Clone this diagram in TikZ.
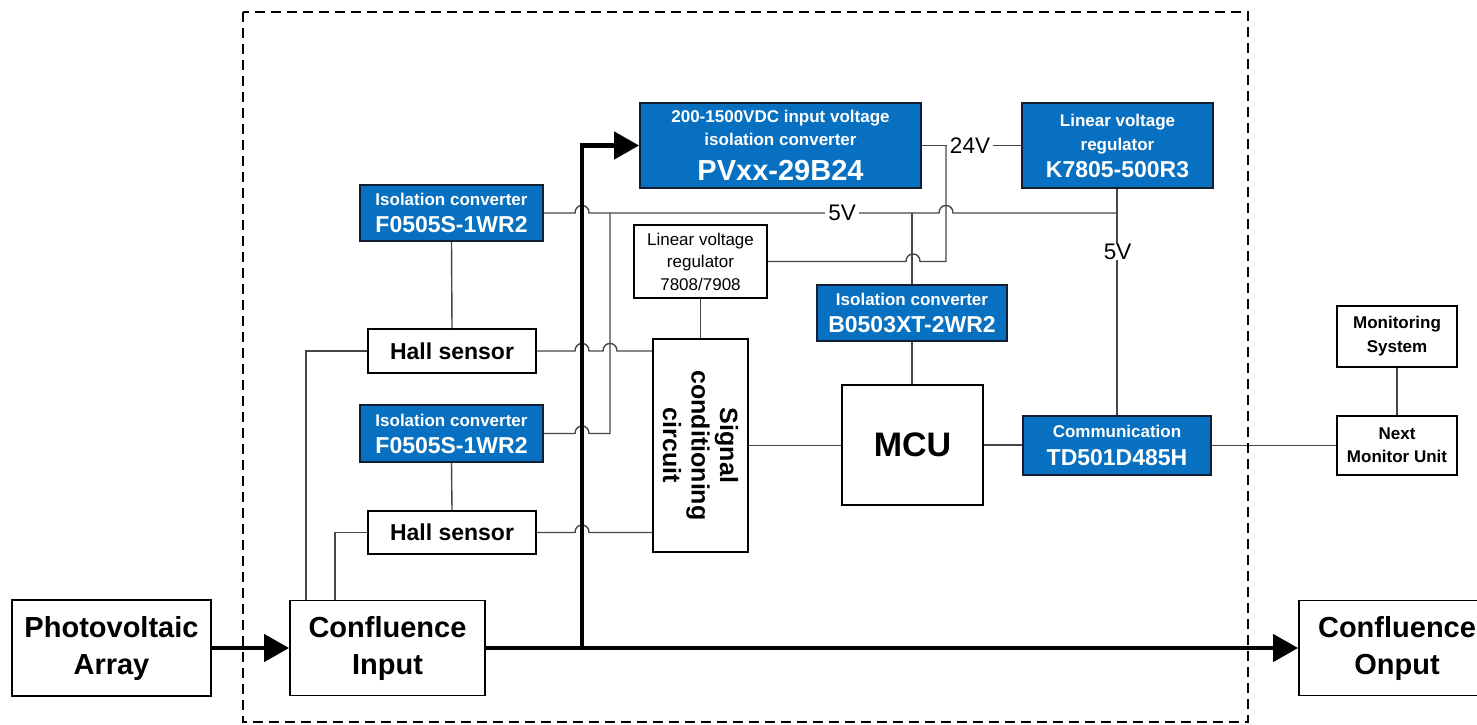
\documentclass[tikz,border=0pt]{standalone}
\usepackage{fontspec}
\setmainfont{Liberation Sans}
\usetikzlibrary{arrows.meta,calc}
\definecolor{boxblue}{RGB}{8,112,192}
\definecolor{boxedge}{RGB}{20,30,50}
\definecolor{wiregray}{RGB}{70,70,70}
\tikzset{
  wbox/.style={draw=black, line width=1.8pt, fill=white, inner sep=0pt, align=center},
  bbox/.style={draw=boxedge, line width=1.8pt, fill=boxblue, text=white, inner sep=0pt, align=center},
  wire/.style={draw=wiregray, line width=1.4pt},
  power/.style={line width=4.5pt, -{Triangle[length=25pt,width=27pt]}},
  vlabel/.style={fill=white, inner xsep=3pt, inner ysep=0pt, font=\fontsize{22.5}{24}\selectfont},
  bord/.style={line width=2.8pt, dash pattern=on 10pt off 6pt}
}
\begin{document}
\begin{tikzpicture}[x=1pt,y=-1pt]
\useasboundingbox (0,0) rectangle (1477,725);

% ---------- boxes ----------
\node[wbox, minimum width=199pt, minimum height=96pt, font=\fontsize{29}{37}\selectfont\bfseries] (pv) at (111.5,648) {Photovoltaic\\Array};
\node[wbox, minimum width=195pt, minimum height=95pt, font=\fontsize{29}{37}\selectfont\bfseries] (cin) at (387.5,648) {Confluence\\Input};
\node[wbox, minimum width=196pt, minimum height=95pt, font=\fontsize{29}{37}\selectfont\bfseries] (cout) at (1397,648) {Confluence\\Onput};

\node[bbox, minimum width=281pt, minimum height=85pt, font=\fontsize{17}{23}\selectfont\bfseries] (pvx) at (780.5,145.5)
  {200-1500VDC input voltage\\isolation converter\\[12pt]{\fontsize{29}{32}\selectfont PVxx-29B24}};
\node[bbox, minimum width=191pt, minimum height=85pt, font=\fontsize{17}{24}\selectfont\bfseries] (k78) at (1117.5,145.5)
  {Linear voltage\\regulator\\[3pt]{\fontsize{23}{26}\selectfont K7805-500R3}};

\node[bbox, minimum width=183pt, minimum height=56pt, font=\fontsize{17}{20}\selectfont\bfseries] (f1) at (451.5,213)
  {Isolation converter\\[7pt]{\fontsize{23}{26}\selectfont F0505S-1WR2}};
\node[bbox, minimum width=183pt, minimum height=57pt, font=\fontsize{17}{20}\selectfont\bfseries] (f2) at (451.5,433.5)
  {Isolation converter\\[7pt]{\fontsize{23}{26}\selectfont F0505S-1WR2}};
\node[bbox, minimum width=190pt, minimum height=56pt, font=\fontsize{17}{20}\selectfont\bfseries] (b05) at (912,313)
  {Isolation converter\\[7pt]{\fontsize{23}{26}\selectfont B0503XT-2WR2}};
\node[bbox, minimum width=188pt, minimum height=59pt, font=\fontsize{17}{20}\selectfont\bfseries] (com) at (1117,445.5)
  {Communication\\[8pt]{\fontsize{23}{26}\selectfont TD501D485H}};

\node[wbox, minimum width=133pt, minimum height=73pt, font=\fontsize{17}{22.5}\selectfont] (lr) at (700.5,261.5)
  {Linear voltage\\regulator\\7808/7908};
\node[wbox, minimum width=168pt, minimum height=44pt, font=\fontsize{23}{26}\selectfont\bfseries] (h1) at (452,351) {Hall sensor};
\node[wbox, minimum width=168pt, minimum height=43pt, font=\fontsize{23}{26}\selectfont\bfseries] (h2) at (452,532.5) {Hall sensor};

\node[wbox, minimum width=95pt, minimum height=213pt] (sig) at (700.5,445.5) {};
\node[rotate=-90, align=center, inner sep=0pt, font=\fontsize{25}{28.5}\selectfont\bfseries] (sigtext) at (sig.center) {Signal\\conditioning\\circuit};

\node[wbox, minimum width=141pt, minimum height=120pt, font=\fontsize{34}{38}\selectfont\bfseries] (mcu) at (912.5,445) {MCU};
\node[wbox, minimum width=120pt, minimum height=61pt, font=\fontsize{17}{24}\selectfont\bfseries] (mon) at (1397,336.5) {Monitoring\\System};
\node[wbox, minimum width=120pt, minimum height=59pt, font=\fontsize{17}{23}\selectfont\bfseries] (nxt) at (1397,445.5) {Next\\Monitor Unit};

% ---------- thin wires ----------
% 5V rail from upper F0505S to K7805 output
\draw[wire] (f1.east) -- (575,213) .. controls (575,203) and (589,203) .. (589,213)
  -- (939,213) .. controls (939,203) and (953,203) .. (953,213) -- (k78.south |- f1.east);
\node[vlabel] (v5a) at (842,213) {5V};
% vertical 610 feeding lower F0505S
\draw[wire] (f2.east) -- (575,433.5) .. controls (575,423.5) and (589,423.5) .. (589,433.5)
  -- (610,433.5) -- (610,213);
% Hall sensor outputs
\draw[wire] (h1.east) -- (575,351) .. controls (575,341) and (589,341) .. (589,351)
  -- (603,351) .. controls (603,341) and (617,341) .. (617,351) -- (sig.west |- h1.east);
\draw[wire] (h2.east) -- (575,532.5) .. controls (575,522.5) and (589,522.5) .. (589,532.5)
  -- (sig.west |- h2.east);
\draw[wire] (f1.south) -- (h1.north);
\draw[wire] (f2.south) -- (h2.north);
\draw[wire] ($(cin.north west)+(17,0)$) |- (h1.west);
\draw[wire] ($(cin.north west)+(46,0)$) |- (h2.west);
% linear regulator 7808/7908
\draw[wire] (lr.south) -- (sig.north);
\draw[wire] (lr.east) -- (906,261.5) .. controls (906,251.5) and (920,251.5) .. (920,261.5)
  -- (946,261.5) -- (946,145.5);
% 24V
\draw[wire] (pvx.east) -- (k78.west);
\node[vlabel] (v24) at (970,145.5) {24V};
% B0503XT, MCU
\draw[wire] (b05.north |- f1.east) -- (b05.north);
\draw[wire] (b05.south) -- (b05.south |- mcu.north);
\draw[wire] (sig.east) -- (sig.east -| mcu.west);
\draw[wire] (mcu.east) -- (mcu.east -| com.west);
\draw[wire] (com.north) -- (com.north |- k78.south);
\node[vlabel] (v5b) at (1117.5,252) {5V};
\draw[wire] (com.east) -- (com.east -| nxt.west);
\draw[wire] (mon.south) -- (nxt.north);

% ---------- power path ----------
\coordinate (tap) at (582,648);
\draw[power] (pv.east) -- (cin.west);
\draw[power] (cin.east) -- (cout.west);
\draw[power] (tap) |- (pvx.west);

% ---------- dashed enclosure ----------
\draw[bord] (243,12) rectangle (1248,722);
\end{tikzpicture}
\end{document}
